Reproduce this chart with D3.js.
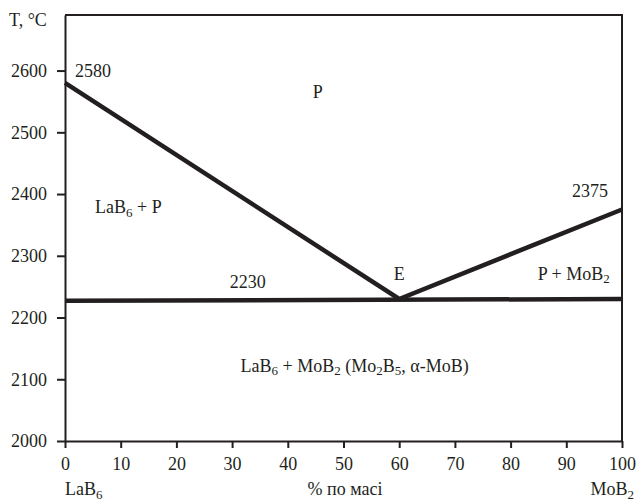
<!DOCTYPE html>
<html>
<head>
<meta charset="utf-8">
<script src="https://cdn.jsdelivr.net/npm/d3@7"></script>
<style>
  body { margin: 0; background: #fff; }
  text { font-family: "Liberation Serif"; }
</style>
</head>
<body>
<svg id="svg" width="637" height="501"></svg>
<script>
const svg = d3.select('svg');
const FONT = '"Liberation Serif"';

// data
const xTicks = [0, 10, 20, 30, 40, 50, 60, 70, 80, 90, 100];
const yTicks = [2000, 2100, 2200, 2300, 2400, 2500, 2600];
const liquidus = [[0, 2580], [60, 2230], [100, 2375]];
const eutectic = [[0, 2227], [100, 2230]];
const labels = [
	{ x: 1.8, y: 2590, parts: [['2580']], anchor: 'start' },
	{ x: 45.4, y: 2556, parts: [['P']], anchor: 'middle' },
	{ x: 5.4, y: 2369, parts: [['LaB'], ['6', 'sub'], [' + P']], anchor: 'start' },
	{ x: 97.5, y: 2395, parts: [['2375']], anchor: 'end' },
	{ x: 60, y: 2261, parts: [['E']], anchor: 'middle' },
	{ x: 97.8, y: 2261, parts: [['P + MoB'], ['2', 'sub']], anchor: 'end' },
	{ x: 32.8, y: 2248, parts: [['2230']], anchor: 'middle' },
	{ x: 52, y: 2112, parts: [['LaB'], ['6', 'sub'], [' + MoB'], ['2', 'sub'], [' (Mo'], ['2', 'sub'], ['B'], ['5', 'sub'], [', α-MoB)']], anchor: 'middle' }
];

const mLeft = 65, mRight = 622, mTop = 15, mBottom = 441;
const x = d3.scaleLinear().domain([0, 100]).range([mLeft, mRight]);
const y = d3.scaleLinear().domain([2000, 2690]).range([mBottom, mTop]);
const col = '#231f20';
const fs = 18;

// frame
svg.append('path')
	.attr('d', `M${mLeft},${mTop}H${mRight}V${mBottom}`)
	.attr('fill', 'none').attr('stroke', col).attr('stroke-width', 2);

const xAxis = svg.append('g').attr('transform', `translate(0,${mBottom})`)
	.call(d3.axisBottom(x).tickValues(xTicks).tickFormat(d3.format('d')).tickSize(7).tickSizeOuter(0).tickPadding(9));
const yAxis = svg.append('g').attr('transform', `translate(${mLeft},0)`)
	.call(d3.axisLeft(y).tickValues(yTicks).tickFormat(d3.format('d')).tickSize(8).tickSizeOuter(0).tickPadding(10));
[xAxis, yAxis].forEach(g => {
	g.attr('font-family', null).attr('font-size', null);
	g.select('.domain').attr('stroke', col).attr('stroke-width', 2);
	g.selectAll('.tick line').attr('stroke', col).attr('stroke-width', 2);
	g.selectAll('.tick text').attr('fill', col).style('font-family', FONT).style('font-size', fs + 'px');
});

// lines
const line = d3.line().x(d => x(d[0])).y(d => y(d[1]));
svg.append('path').datum(liquidus).attr('d', line)
	.attr('fill', 'none').attr('stroke', col).attr('stroke-width', 4.5).attr('stroke-linejoin', 'miter');
svg.append('path').datum(eutectic).attr('d', line)
	.attr('fill', 'none').attr('stroke', col).attr('stroke-width', 4.5);

// labels with subscripts
function rich(sel, parts) {
	let prevSub = false;
	parts.forEach(p => {
		const sub = p[1] === 'sub';
		const t = sel.append('tspan').text(p[0]);
		let dy = 0;
		if (sub && !prevSub) dy = 3.5;
		if (!sub && prevSub) dy = -3.5;
		t.attr('dy', dy);
		if (sub) t.style('font-size', '13px');
		prevSub = sub;
	});
	return sel;
}
function txt(px, py, anchor) {
	return svg.append('text').attr('x', px).attr('y', py)
		.style('font-size', fs + 'px').style('font-family', FONT).attr('fill', col).attr('text-anchor', anchor);
}
labels.forEach(l => rich(txt(x(l.x), y(l.y), l.anchor), l.parts));

txt(9, 26, 'start').text('T, °C');
rich(txt(65, 495, 'start'), [['LaB'], ['6', 'sub']]);
txt(345, 495, 'middle').text('% по масі');
rich(txt(634, 495, 'end'), [['MoB'], ['2', 'sub']]);
</script>
</body>
</html>
